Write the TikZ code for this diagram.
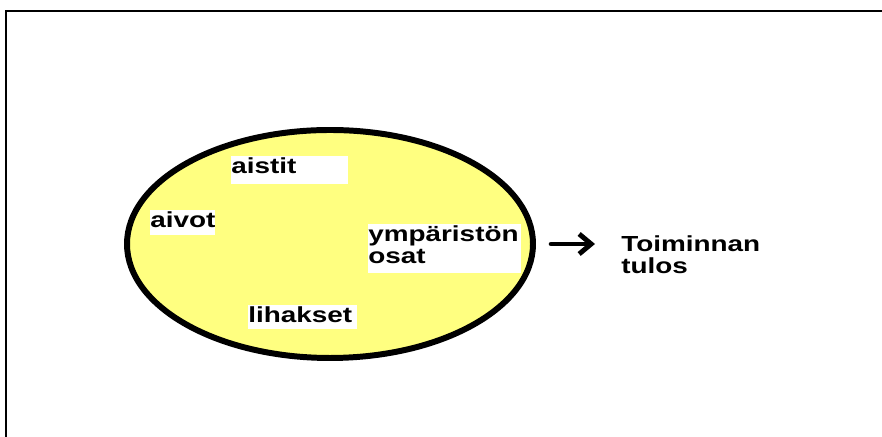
\documentclass[tikz,border=0pt]{standalone}
\usepackage{fontspec}
\setmainfont{Liberation Sans}[FakeStretch=1.28]
\usetikzlibrary{shapes.geometric, arrows.meta}
\definecolor{cYellow}{RGB}{255,255,128}
\tikzset{
	lbl/.style      ={rectangle, fill=white, inner sep=0pt, anchor=north west, align=left, text height=0.43cm, text depth=0.2cm},
	flowarrow/.style={-{Straight Barb[length=3mm, width=5mm]}, line width=3.5pt, line cap=round},
}

\begin{document}
\begin{tikzpicture}[font=\fontsize{15.5}{15.7}\selectfont\bfseries]
	\useasboundingbox (0,0) rectangle (22.05,10.925);
	% frame
	\draw[line width=1.4pt] (0.15,0) -- (0.15,10.65) -- (22.05,10.65);
	% the whole system
	\node[ellipse, draw, line width=4.25pt, fill=cYellow, minimum width=10.15cm, minimum height=5.7cm, inner sep=0pt] (system) at (8.25,4.825) {};
	\node[lbl, text width=2.925cm, text depth=0.27cm] (aistit) at (5.775,7.025) {aistit};
	\node[lbl, text width=1.625cm] (aivot) at (3.75,5.675) {aivot};
	\node[lbl, text width=3.825cm, text depth=0.8cm] (ympa) at (9.2,5.325) {ympäristön\\osat};
	\node[lbl, text width=2.725cm, text depth=0.17cm] (lihakset) at (6.2,3.3) {lihakset};
	% result
	\node[anchor=north west, inner sep=0pt, align=left] (tulos) at (15.525,5.0375) {Toiminnan\\tulos};
	\draw[flowarrow, shorten <=0.38cm, shorten >=0.65cm] (system.east) -- (system.east -| tulos.west);
\end{tikzpicture}
\end{document}
